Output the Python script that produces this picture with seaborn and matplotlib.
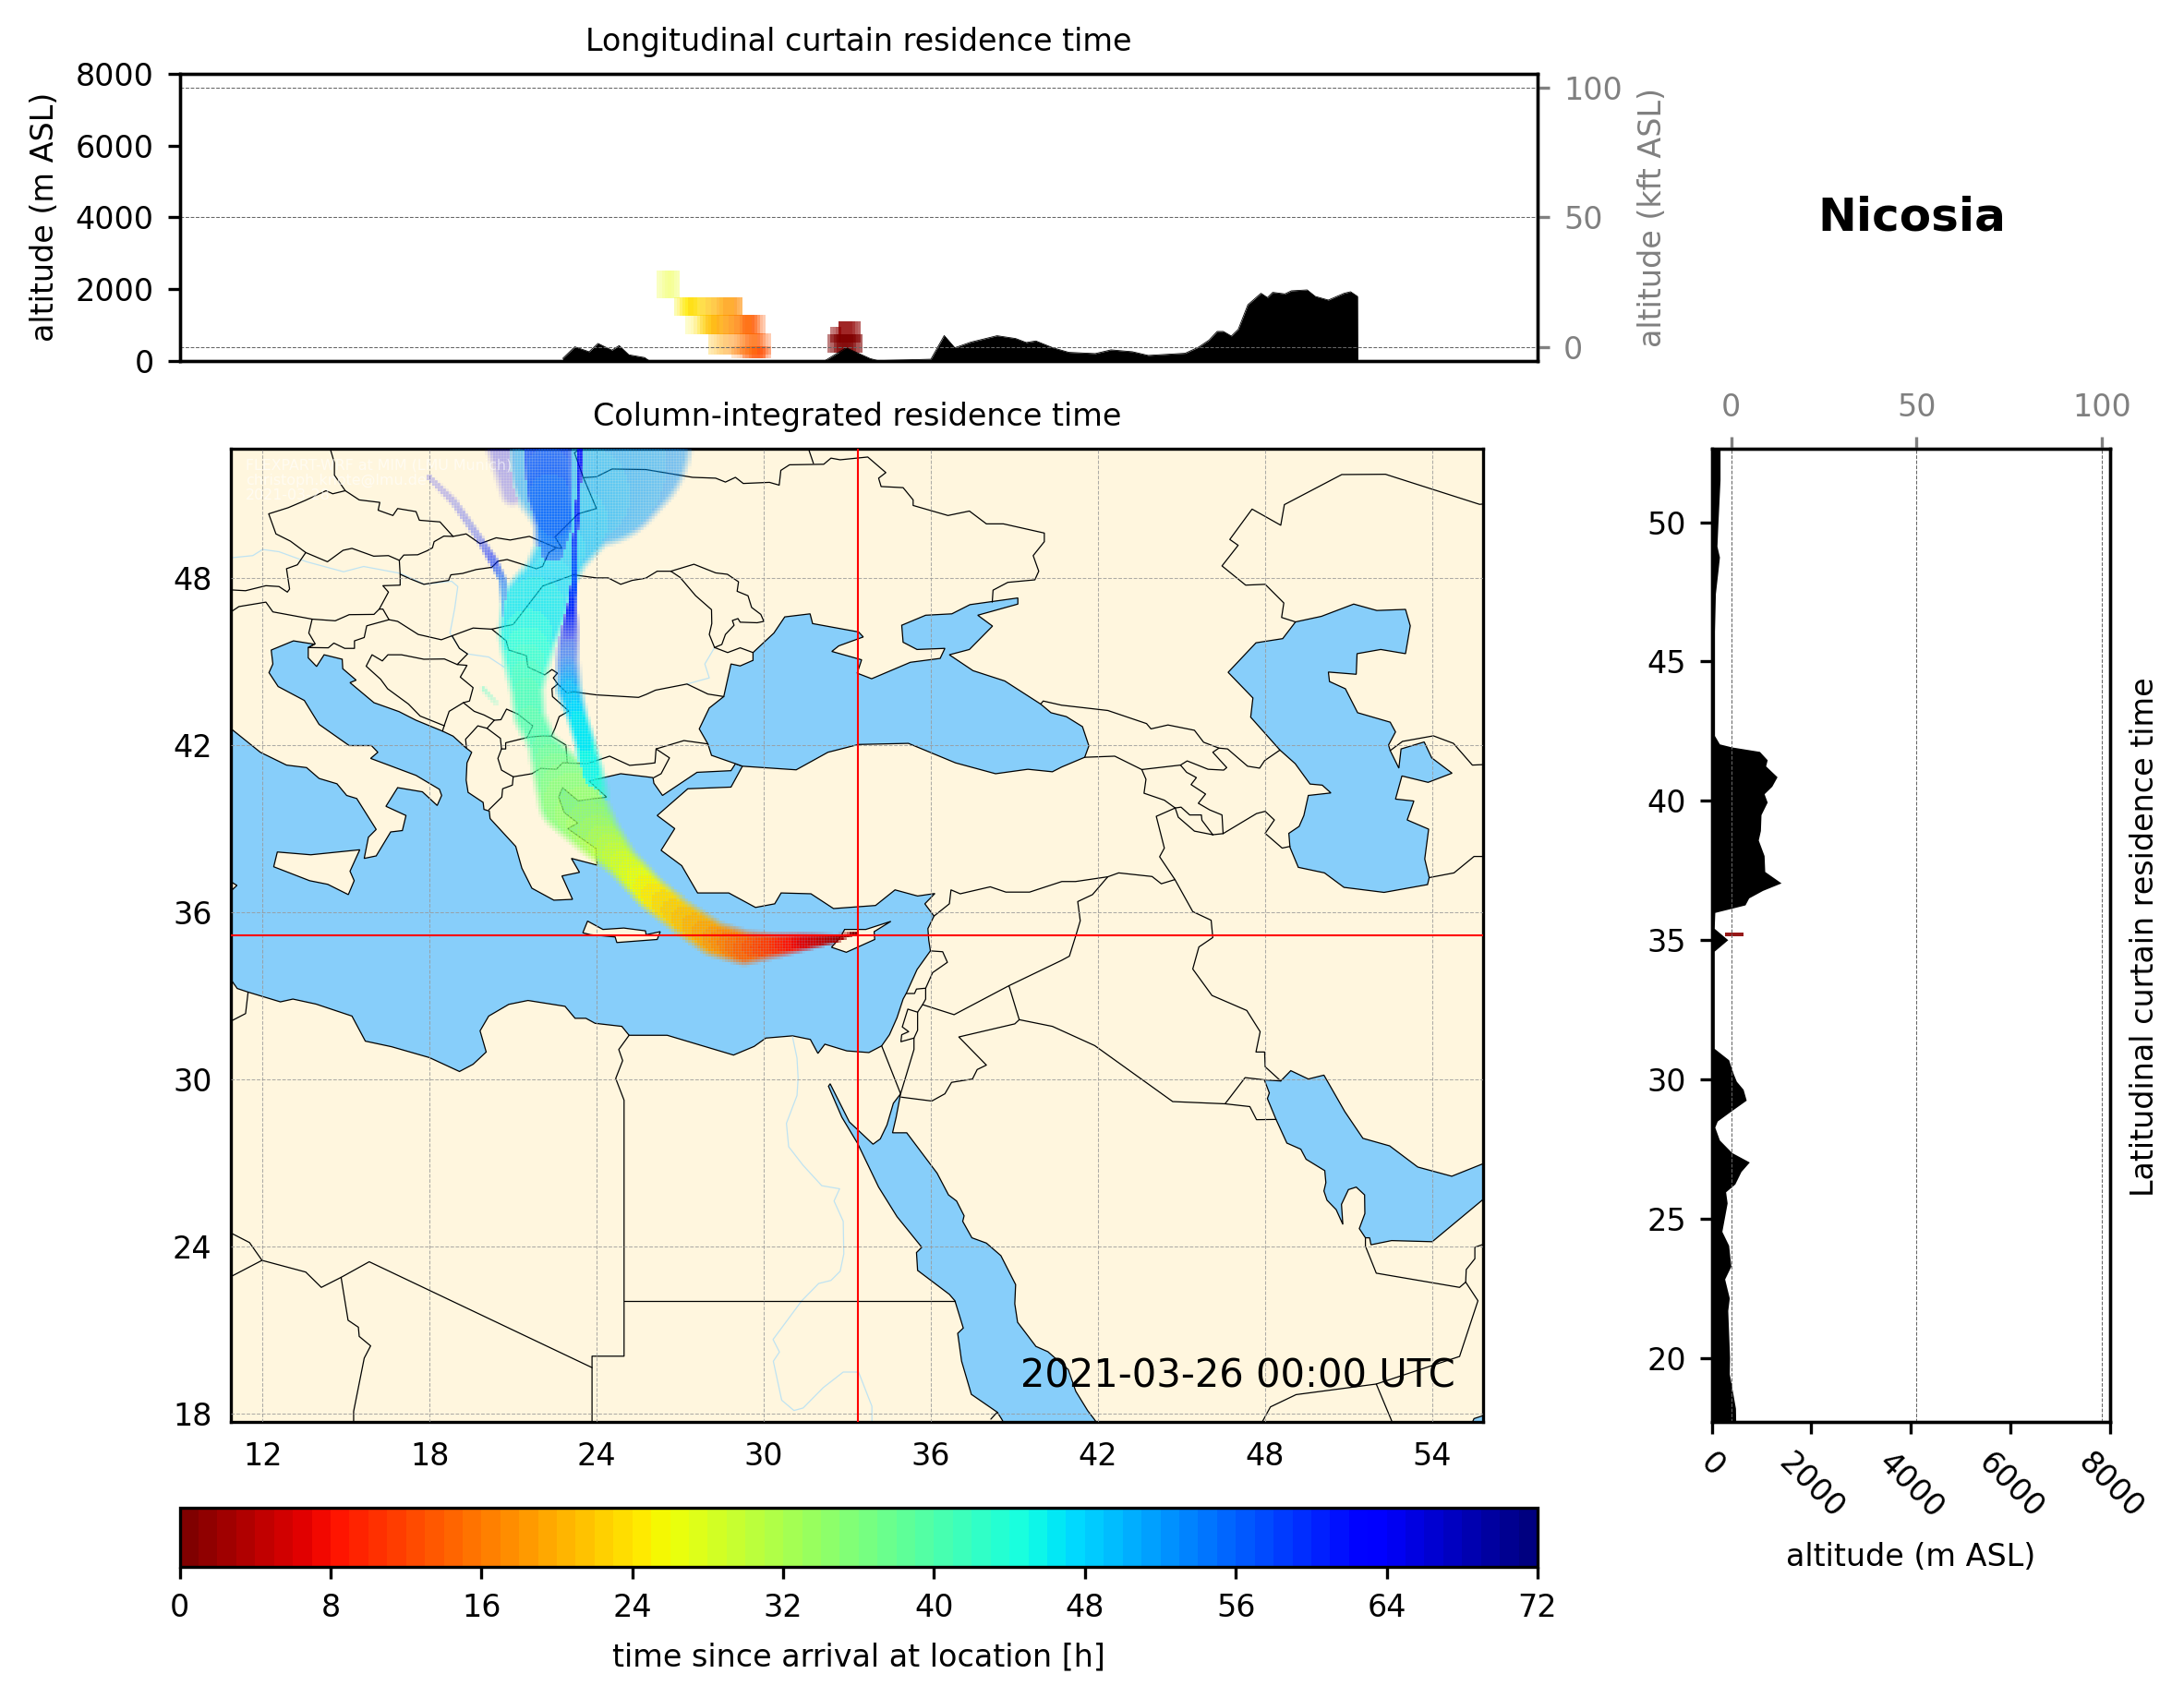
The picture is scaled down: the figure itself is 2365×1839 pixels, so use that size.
import numpy as np
import matplotlib
matplotlib.use("Agg")
import matplotlib.pyplot as plt
from matplotlib.colors import BoundaryNorm
from matplotlib.cm import ScalarMappable
import seaborn as sns

# ---------- map data (lon, lat) ----------
MED_SEA = [(10.85,42.6),(11.92,41.74),(12.86,41.28),(13.58,41.19),(14.03,40.8),(14.67,40.61),(15.02,40.19),(15.38,40.08),(16.08,38.97),(15.8,38.69),(15.65,37.93),(16.08,38.02),(16.6,38.88),(17.02,38.93),(17.15,39.47),(16.43,39.8),(16.85,40.47),(17.74,40.32),(18.27,39.83),(18.43,40.19),(18.35,40.41),(17.51,40.91),(15.88,41.52),(16.14,41.74),(15.91,41.98),(15.11,41.98),(14.03,42.74),(13.5,43.6),(12.56,44.1),(12.23,44.6),(12.37,44.91),(12.31,45.41),(13.11,45.74),(13.86,45.62),(13.64,45.5),(13.64,45.13),(13.94,44.82),(14.21,45.24),(14.86,45.08),(14.88,44.74),(15.36,44.33),(15.14,44.24),(16.0,43.52),(16.9,43.2),(17.51,42.89),(18.46,42.5),(18.84,42.32),(19.29,41.91),(19.51,41.74),(19.34,41.36),(19.31,40.74),(19.38,40.3),(19.92,39.94),(19.95,39.69),(20.14,39.63),(20.17,39.36),(21.09,38.36),(21.31,37.58),(21.67,36.86),(22.46,36.43),(23.13,36.46),(22.75,37.3),(23.38,37.43),(23.09,37.93),(24.01,37.69),(23.99,38.27),(22.96,39.0),(23.32,39.2),(22.83,39.58),(22.63,40.13),(22.77,40.47),(23.33,40.0),(24.35,40.13),(23.72,40.71),(24.86,40.97),(25.78,40.86),(26.02,40.83),(26.05,40.63),(26.36,40.19),(27.6,41.02),(28.82,41.08),(28.98,41.33),(29.23,41.24),(28.82,40.49),(27.27,40.43),(26.17,39.47),(26.8,39.0),(26.31,38.22),(27.05,37.67),(27.62,36.69),(28.74,36.69),(29.7,36.17),(30.39,36.3),(30.62,36.69),(31.69,36.66),(32.5,36.13),(34.01,36.24),(34.71,36.8),(35.52,36.58),(36.14,36.67),(35.78,36.3),(36.11,35.86),(35.89,35.41),(35.92,35.0),(35.98,34.61),(35.5,33.94),(35.12,33.1),(35.0,32.88),(34.78,32.21),(34.51,31.6),(34.23,31.2),(33.77,30.96),(32.98,31.02),(32.19,31.26),(31.94,30.93),(31.67,31.43),(31.03,31.56),(30.07,31.48),(29.65,31.18),(28.91,30.87),(26.53,31.58),(25.16,31.58),(24.9,31.9),(23.94,32.01),(23.61,32.19),(23.22,32.19),(22.86,32.62),(21.53,32.83),(20.84,32.69),(20.12,32.27),(19.81,31.74),(20.03,30.98),(19.56,30.54),(19.07,30.28),(17.99,30.78),(16.63,31.17),(15.69,31.37),(15.21,32.27),(13.92,32.7),(13.09,32.88),(12.64,32.78),(11.48,33.13),(11.09,33.26),(10.85,33.6)]
BLACK_SEA = [(30.75,46.6),(31.66,46.71),(31.75,46.36),(33.4,46.06),(33.57,45.88),(32.69,45.56),(32.44,45.36),(33.51,45.06),(33.35,44.58),(33.87,44.38),(35.26,44.97),(36.33,45.11),(36.5,45.47),(35.5,45.43),(35.0,45.69),(34.95,46.3),(35.81,46.66),(36.75,46.71),(37.4,47.04),(39.12,47.28),(39.12,47.06),(37.68,46.66),(38.21,46.27),(37.38,45.43),(36.66,45.24),(37.51,44.67),(38.65,44.3),(39.94,43.47),(40.31,43.16),(40.86,43.02),(41.44,42.66),(41.67,41.97),(41.52,41.56),(40.69,41.21),(40.36,41.04),(39.48,41.13),(38.32,40.97),(36.88,41.36),(35.19,42.06),(33.4,42.02),(32.3,41.74),(31.16,41.11),(29.23,41.24),(28.98,41.33),(28.12,41.63),(27.99,42.04),(27.68,42.58),(28.04,43.33),(28.56,43.74),(28.82,44.91),(29.15,44.84),(29.61,45.04),(29.61,45.32),(30.36,46.02)]
CASPIAN = [(46.67,44.61),(47.67,45.67),(48.63,45.82),(49.09,46.42),(50.02,46.62),(51.18,47.06),(52.01,46.83),(53.04,46.87),(53.21,46.28),(53.04,45.28),(52.15,45.43),(51.3,45.28),(51.27,44.54),(50.27,44.62),(50.31,44.28),(50.88,44.02),(51.32,43.16),(52.49,42.82),(52.68,42.47),(52.43,42.0),(52.49,41.8),(52.8,41.17),(52.88,41.86),(53.71,42.11),(53.98,41.54),(54.71,40.99),(53.85,40.66),(52.91,40.89),(52.68,40.06),(53.34,39.99),(53.1,39.31),(53.87,38.98),(53.73,37.91),(53.89,37.24),(53.83,36.99),(52.27,36.71),(50.83,36.89),(50.13,37.41),(49.19,37.61),(48.89,38.33),(48.85,38.83),(49.22,39.08),(49.39,39.47),(49.55,40.19),(50.36,40.28),(50.05,40.56),(49.61,40.6),(49.08,41.33),(48.53,41.82),(47.48,43.0),(47.56,43.69)]
RED_SEA = [(32.38,29.84),(33.07,28.47),(33.92,27.67),(34.18,27.86),(34.42,28.36),(34.65,29.14),(34.91,29.48),(34.75,28.64),(34.62,28.08),(35.13,28.08),(36.22,26.63),(36.63,25.85),(36.92,25.63),(37.19,25.1),(37.14,24.9),(37.47,24.31),(37.99,24.12),(38.51,23.67),(39.04,22.63),(39.01,21.94),(39.11,21.28),(39.77,20.41),(40.2,20.22),(40.93,19.58),(41.2,18.8),(41.63,18.1),(41.86,17.8),(42.0,17.6),(38.65,17.6),(38.54,17.8),(38.38,18.05),(37.45,18.69),(37.1,19.88),(36.96,20.88),(37.16,21.07),(36.86,22.05),(36.66,22.28),(35.52,23.14),(35.48,23.78),(35.67,23.97),(34.78,25.07),(34.12,26.13),(33.37,27.69),(32.8,28.64),(32.32,29.75)]
GULF = [(47.97,29.98),(48.56,29.94),(48.92,30.31),(49.55,30.01),(50.11,30.15),(50.86,28.84),(51.51,27.88),(52.47,27.61),(53.48,26.85),(54.7,26.52),(55.9,27.0),(55.9,25.75),(54.0,24.17),(52.54,24.21),(51.8,24.06),(51.75,24.31),(51.6,24.31),(51.38,24.64),(51.58,25.18),(51.57,25.85),(51.27,26.13),(50.99,26.04),(50.74,25.51),(50.79,24.79),(50.55,25.32),(50.22,25.66),(50.11,25.99),(50.18,26.29),(50.14,26.72),(49.47,27.13),(49.28,27.49),(48.78,27.71),(48.39,28.56),(48.08,29.31),(48.15,29.51)]
ARABIAN_CORNER = [(55.4,17.6),(55.5,17.82),(55.9,17.95),(55.9,17.6)]
WATER_BODIES = [MED_SEA, BLACK_SEA, CASPIAN, RED_SEA, GULF, ARABIAN_CORNER]

SICILY = [(12.53,38.16),(13.73,38.06),(15.49,38.24),(15.14,37.47),(15.29,37.13),(15.08,36.63),(14.34,37.0),(13.69,37.13),(12.4,37.63)]
CRETE = [(23.5,35.26),(23.67,35.68),(24.22,35.38),(24.97,35.43),(25.75,35.33),(25.77,35.19),(26.28,35.3),(26.17,35.02),(24.72,34.91),(24.66,35.11),(23.78,35.19)]
CYPRUS = [(32.9,35.38),(33.66,35.38),(34.56,35.67),(33.96,35.3),(33.98,35.02),(32.96,34.56),(32.43,34.74),(32.63,34.97),(32.8,35.19)]
TUNIS_TIP = [(10.85,37.1),(11.08,36.96),(10.85,36.75)]
ISLANDS = [SICILY, CRETE, CYPRUS, TUNIS_TIP]

B_POLAND_SOUTH = [(14.41,52.7),(14.58,52.13),(14.58,51.69),(14.97,51.13),(15.47,50.8),(16.21,50.71),(16.15,50.43),(16.68,50.24),(16.85,50.49),(17.51,50.38),(17.63,50.07),(18.37,50.01),(18.84,49.49),(19.31,49.58),(19.81,49.23),(20.39,49.44),(20.89,49.36),(21.58,49.49),(22.55,49.08),(22.75,49.06),(22.5,49.47),(23.33,50.3),(23.99,50.49),(23.52,51.6),(23.2,52.49),(23.49,52.7)]
B_UKRAINE_NORTH = [(23.52,51.6),(23.99,51.63),(24.55,51.91),(25.76,51.89),(27.44,51.61),(28.27,51.58),(28.62,51.44),(28.98,51.61),(29.26,51.39),(30.2,51.43),(30.55,51.33),(30.61,51.86),(30.92,52.06),(32.15,52.08),(32.41,52.3),(32.74,52.24),(33.73,52.34),(34.38,51.78),(34.12,51.58),(34.21,51.28),(35.0,51.24),(35.36,50.8),(35.36,50.6),(36.61,50.24),(37.38,50.4),(37.99,49.94),(38.6,49.94),(40.07,49.61),(40.07,49.3),(39.67,48.8),(39.87,48.24),(39.73,47.93),(38.76,47.84),(38.23,47.56),(38.2,47.13)]
B_RUS_BELARUS = [(31.58,52.7),(31.78,52.11)]
B_CZECH = [(14.97,51.13),(14.52,51.02),(14.28,51.13),(13.53,50.78),(12.92,50.52),(12.22,50.3),(12.48,49.58),(13.0,49.32),(13.55,48.91),(14.33,48.58),(14.89,48.99),(15.21,49.06),(15.99,48.78),(16.52,48.8),(16.91,48.63),(17.07,48.82),(17.57,48.83),(17.9,48.97),(18.1,49.08),(18.16,49.3),(18.51,49.5),(18.84,49.49)]
B_SLOVAK_SOUTH = [(16.91,48.63),(16.94,48.13),(17.29,47.97),(17.79,47.77),(18.68,47.91),(18.76,48.11),(19.18,48.16),(19.67,48.3),(20.23,48.38),(20.45,48.6),(20.78,48.66),(21.83,48.33),(22.05,48.41),(22.28,48.91),(22.55,49.08)]
B_AUSTRIA_WEST = [(13.55,48.91),(13.25,48.47),(12.86,48.33),(12.97,47.6),(12.89,47.49),(12.59,47.69),(12.12,47.72),(11.39,47.54),(10.85,47.57)]
B_AUSTRIA_SOUTH = [(16.94,48.13),(16.94,47.74),(16.32,47.72),(16.52,47.49),(16.19,46.88),(16.0,46.69),(15.11,46.68),(14.61,46.46),(13.78,46.52),(12.37,46.78),(12.12,47.13),(11.15,46.97),(10.85,46.77)]
B_SLOVENIA = [(13.78,46.52),(13.66,46.02),(13.89,45.63),(13.64,45.5),(14.36,45.49),(14.56,45.66),(14.95,45.47),(15.3,45.47),(15.3,45.74),(15.65,45.86),(15.74,46.28),(16.54,46.5),(16.32,46.88),(16.19,46.88)]
B_HUNGARY_SOUTH = [(16.54,46.5),(16.85,46.44),(17.59,45.97),(18.42,45.78),(19.56,46.2),(20.23,46.16),(21.0,46.33),(22.06,47.71),(23.16,48.11),(23.99,48.0),(24.41,48.0),(24.86,47.77),(25.27,47.91),(25.76,47.99),(26.17,48.24),(26.66,48.24)]
B_MOLDOVA_WEST = [(26.66,48.24),(26.99,48.02),(27.55,47.36),(28.12,46.86),(28.13,46.36),(28.04,45.97),(28.23,45.5),(28.7,45.32),(29.15,45.49),(29.61,45.32)]
B_MOLDOVA_EAST = [(26.66,48.24),(27.49,48.49),(28.27,48.18),(28.69,48.13),(29.09,47.86),(29.04,47.52),(29.43,47.36),(29.56,46.94),(29.89,46.69),(30.0,46.44),(29.76,46.39),(29.15,46.41),(29.07,46.54),(28.87,46.47),(28.93,46.3),(28.62,45.97),(28.49,45.61),(28.23,45.5)]
B_SERBIA_WEST = [(18.81,45.91),(19.07,45.47),(19.36,45.27),(18.99,44.89),(19.34,44.86),(19.1,44.44),(19.56,44.06),(19.43,43.58),(19.21,43.52),(18.7,43.21),(18.53,42.72),(18.46,42.5)]
B_BOSNIA = [(18.99,44.89),(18.53,45.09),(17.79,45.08),(16.99,45.24),(16.5,45.24),(16.3,45.02),(15.93,45.24),(15.72,44.83),(16.24,44.36),(16.49,44.02),(17.24,43.47),(17.66,43.04),(18.53,42.69)]
B_MONTENEGRO = [(19.21,43.52),(19.6,43.21),(19.95,43.08),(20.32,42.89),(20.06,42.6),(19.73,42.69),(19.56,42.5),(19.29,42.21),(19.32,41.91)]
B_KOSOVO = [(20.32,42.89),(20.56,42.91),(20.76,43.29),(21.17,43.11),(21.7,42.69),(21.5,42.27),(22.06,42.33),(22.37,42.32),(22.89,42.0),(22.94,41.36)]
B_KOSOVO_SOUTH = [(20.06,42.6),(20.54,42.24),(20.58,41.86),(20.73,41.86),(20.73,42.08),(21.5,42.27)]
B_GREECE_NORTH = [(20.58,41.86),(20.45,41.52),(20.58,41.1),(21.0,40.86),(21.67,40.97),(21.98,41.16),(22.55,41.13),(22.77,41.36),(23.66,41.33),(24.46,41.6),(25.18,41.27),(25.76,41.32),(26.09,41.36),(26.13,41.86),(27.13,42.16),(27.99,42.04)]
B_GALLIPOLI = [(26.13,41.86),(26.61,41.54),(26.31,40.97),(26.05,40.83)]
B_BULGARIA_WEST = [(22.37,42.32),(22.5,42.6),(22.65,43.02),(23.0,43.22),(22.41,43.74),(22.39,44.02),(22.6,44.19),(22.94,43.86),(23.16,43.91),(23.99,43.8),(25.5,43.71),(25.78,43.82),(26.11,43.97),(27.24,44.19),(27.99,43.83),(28.56,43.74)]
B_SERBIA_ROMANIA = [(20.23,46.16),(20.75,45.74),(20.84,45.41),(21.47,45.21),(21.53,44.8),(22.13,44.52),(22.39,44.71),(22.59,44.58),(22.44,44.41),(22.6,44.19)]
B_ALBANIA_SOUTH = [(21.0,40.86),(20.97,40.56),(20.62,40.43),(20.59,40.13),(20.12,39.67)]
B_KAZAKH_RUSSIA = [(55.9,50.66),(55.7,50.64),(52.32,51.72),(50.75,51.71),(48.69,50.63),(48.56,49.89),(47.53,50.47),(46.73,49.38),(47.03,49.17),(46.45,48.43),(47.3,47.74),(48.0,47.77),(48.67,47.1),(48.59,46.58),(49.09,46.42)]
B_CAUCASUS = [(39.94,43.47),(40.03,43.58),(40.69,43.43),(42.35,43.24),(43.74,42.77),(43.9,42.58),(44.51,42.72),(45.46,42.53),(45.79,42.1),(46.34,41.89),(46.65,41.86),(47.37,41.24),(47.8,41.17),(47.98,41.44),(48.53,41.82)]
B_GEORGIA_SOUTH = [(46.34,41.89),(46.12,41.74),(46.62,41.19),(46.51,41.1),(45.95,41.13),(45.2,41.43),(44.96,41.28),(43.57,41.12),(42.6,41.6),(41.52,41.56)]
B_ARMENIA = [(44.96,41.28),(45.18,41.02),(45.53,40.83),(45.34,40.58),(45.86,40.24),(45.6,39.91),(46.01,39.67),(46.45,39.49),(46.49,38.82),(46.12,38.78),(45.73,39.3),(45.71,39.49),(45.29,39.49),(44.98,39.77),(44.77,39.74),(44.88,39.41),(45.46,38.91),(46.12,38.78)]
B_TURKEY_ARMENIA = [(43.57,41.12),(43.72,40.77),(43.65,40.27),(44.38,40.02),(44.77,39.74)]
B_IRAN_WEST = [(44.77,39.74),(44.09,39.44),(44.38,38.3),(44.21,37.99),(44.76,37.17),(45.4,36.02),(46.06,35.71),(46.12,35.09),(45.62,34.75),(45.4,33.96),(46.09,33.01),(47.34,32.47),(47.82,31.71),(47.67,30.98),(47.98,30.98),(48.0,30.45),(48.56,29.94)]
B_IRAN_NORTH = [(46.49,38.82),(47.69,39.54),(48.0,39.62),(48.33,39.31),(48.0,38.83),(48.61,38.3),(48.89,38.36)]
B_TURKMEN_IRAN = [(53.89,37.24),(54.78,37.41),(55.5,38.0),(55.9,38.0)]
B_TURKMEN_NORTH = [(52.49,41.8),(52.93,42.13),(54.04,42.33),(54.76,42.06),(55.44,41.28),(55.9,41.3)]
B_TURKEY_SOUTH = [(36.11,35.86),(36.66,36.3),(36.72,36.8),(37.05,36.66),(38.13,36.91),(38.69,36.72),(39.54,36.72),(40.7,37.1),(41.19,37.1),(42.35,37.27),(42.74,37.41),(43.94,37.28),(44.27,37.02),(44.76,37.17)]
B_SYRIA_IRAQ = [(42.35,37.27),(41.8,36.63),(41.27,36.38),(41.36,35.69),(41.22,35.22),(40.97,34.42),(40.69,34.27),(38.8,33.36),(39.17,32.14)]
B_SYRIA_JORDAN = [(38.8,33.36),(36.83,32.32),(35.7,32.68)]
B_JORDAN_SAUDI = [(39.17,32.14),(39.01,31.99),(37.0,31.52),(37.99,30.51),(37.66,30.35),(37.49,30.01),(36.74,29.89),(36.5,29.48),(36.03,29.22),(34.93,29.36)]
B_IRAQ_SAUDI = [(39.17,32.14),(40.36,31.9),(41.88,31.21),(44.68,29.2),(46.56,29.12),(47.45,29.02),(47.69,28.55),(48.39,28.56)]
B_KUWAIT = [(46.56,29.12),(47.28,30.06),(47.97,29.98)]
B_LEBANON = [(35.98,34.61),(36.42,34.58),(36.59,34.2),(36.06,33.83),(35.81,33.27),(35.48,33.24),(35.41,33.08),(35.12,33.08)]
B_ISRAEL_EAST = [(35.81,33.27),(35.81,32.88),(35.7,32.68),(35.52,32.41),(35.52,31.76),(35.39,31.48),(35.39,31.07),(34.91,29.48)]
B_SINAI = [(34.23,31.2),(34.91,29.48)]
B_WEST_BANK = [(35.52,32.41),(35.17,32.52),(34.97,31.88),(35.2,31.71),(34.95,31.6),(34.92,31.35),(35.39,31.48)]
B_EGYPT_SOUTH = [(24.98,22.05),(36.86,22.05)]
B_EGYPT_LIBYA = [(25.16,31.58),(24.79,31.07),(24.93,30.67),(24.68,30.03),(24.98,29.25),(24.98,20.06),(23.83,20.06),(23.83,17.6)]
B_LIBYA_SOUTH = [(23.83,19.65),(15.83,23.45),(14.82,22.89),(14.11,22.53),(13.55,23.08),(11.98,23.5),(11.53,24.14),(10.85,24.49)]
B_NIGER_ALGERIA = [(11.98,23.5),(10.85,22.91)]
B_CHAD_NIGER = [(14.82,22.89),(15.07,21.35),(15.44,21.1),(15.47,20.77),(15.88,20.43),(15.65,19.99),(15.27,18.08),(15.27,17.6)]
B_TUNISIA = [(11.48,33.13),(11.39,32.36),(10.85,32.08)]
B_SAUDI_SOUTH = [(47.84,17.6),(48.19,18.24),(49.11,18.68),(51.99,19.06),(54.98,20.05),(55.64,22.05),(55.2,22.72),(54.98,22.53),(51.99,23.04),(51.6,24.01),(51.6,24.31)]
B_UAE_OMAN = [(55.2,22.72),(55.22,23.17),(55.53,23.56),(55.53,23.97),(55.9,24.1)]
B_OMAN_YEMEN = [(51.99,19.06),(52.6,17.6)]
B_ERITREA = [(38.15,17.8),(38.38,18.05)]
BORDERS = [B_POLAND_SOUTH,B_UKRAINE_NORTH,B_RUS_BELARUS,B_CZECH,B_SLOVAK_SOUTH,B_AUSTRIA_WEST,B_AUSTRIA_SOUTH,B_SLOVENIA,B_HUNGARY_SOUTH,B_MOLDOVA_WEST,B_MOLDOVA_EAST,B_SERBIA_WEST,B_BOSNIA,B_MONTENEGRO,B_KOSOVO,B_KOSOVO_SOUTH,B_GREECE_NORTH,B_GALLIPOLI,B_BULGARIA_WEST,B_SERBIA_ROMANIA,B_ALBANIA_SOUTH,B_KAZAKH_RUSSIA,B_CAUCASUS,B_GEORGIA_SOUTH,B_ARMENIA,B_TURKEY_ARMENIA,B_IRAN_WEST,B_IRAN_NORTH,B_TURKMEN_IRAN,B_TURKMEN_NORTH,B_TURKEY_SOUTH,B_SYRIA_IRAQ,B_SYRIA_JORDAN,B_JORDAN_SAUDI,B_IRAQ_SAUDI,B_KUWAIT,B_LEBANON,B_ISRAEL_EAST,B_SINAI,B_WEST_BANK,B_EGYPT_SOUTH,B_EGYPT_LIBYA,B_LIBYA_SOUTH,B_NIGER_ALGERIA,B_CHAD_NIGER,B_TUNISIA,B_SAUDI_SOUTH,B_UAE_OMAN,B_OMAN_YEMEN,B_ERITREA]

NILE = [(31.03,31.52),(31.19,30.76),(31.23,30.03),(31.19,29.42),(30.81,28.42),(30.89,27.58),(31.41,26.91),(32.08,26.18),(32.72,26.07),(32.52,25.63),(32.85,24.9),(32.87,23.73),(32.74,23.11),(32.41,22.78),(31.97,22.67),(31.36,22.05),(30.33,20.66),(30.56,20.21),(30.34,19.88),(30.64,18.48),(31.08,18.11),(31.41,18.2),(32.13,18.93),(32.85,19.49),(33.4,19.49),(33.88,18.26),(33.88,17.7)]
DANUBE_UPPER = [(10.85,48.72),(11.65,48.8),(12.0,49.02),(12.59,48.94),(13.58,48.58),(14.91,48.22),(15.63,48.41),(16.96,48.16),(17.81,47.77),(18.79,47.88),(19.01,47.69),(18.9,46.91),(18.73,46.02),(19.07,45.47),(19.36,45.27),(20.12,45.16),(20.67,44.8)]
DANUBE_LOWER = [(27.24,44.19),(28.04,44.41),(27.88,44.91),(28.23,45.5)]
RIVERS = [NILE, DANUBE_UPPER, DANUBE_LOWER]

NICOSIA_LON = 33.37
NICOSIA_LAT = 35.18

# plume branches: centre lon, lat, half-width (deg), hours since arrival, opacity
MAIN_LON = [33.37,32.6,31.4,30.4,29.3,28.2,27.1,26.0,24.9,24.0,23.1,22.6,22.05,21.6,21.5,21.5,21.55,21.8,22.3,22.8,23.2,23.4,23.8,24.1]
MAIN_LAT = [35.27,35.05,34.92,34.8,34.72,35.05,35.8,36.65,37.8,38.8,40.0,41.0,42,43,44,45,46,47,48,49,50,51,52,52.9]
MAIN_HW = [.03,.2,.38,.52,.7,.72,.68,.68,.68,.95,1.3,1.0,.62,.65,.68,.92,1.15,1.3,1.05,1.1,1.5,2.1,3.0,3.4]
MAIN_H = [0,3,7,11,15,19,22,25,29,33,36,38,40,41,42,44,46,47,48,49,50,51,52,52]
MAIN_A = [1,1,1,1,1,1,1,1,1,.9,.85,.85,.85,.85,.85,.8,.8,.75,.7,.7,.65,.6,.55,.5]
EAST_LON = [24.0,23.8,23.6,23.3,23.0,22.95,23.0,23.1,23.2,23.2,23.35,23.4]
EAST_LAT = [40.2,41,42,43,44,45,46,47,48,49,51,52.9]
EAST_HW = [.55,.55,.45,.45,.55,.5,.45,.22,.16,.16,.14,.14]
EAST_H = [42,45,46,47,50,56,60,60,56,58,60,62]
EAST_A = [.7,.95,1,1,.9,.6,.6,1,1,.9,.9,.9]
NW_LON = [22.4,22.5,22.3,22.2]
NW_LAT = [49,50,51,52.9]
NW_HW = [.7,.85,1.0,1.1]
NW_H = [54,55,56,58]
NW_A = [.75,.9,.85,.7]
NWFAINT_LON = [21.0,20.6]
NWFAINT_LAT = [51.0,52.9]
NWFAINT_HW = [.5,.7]
NWFAINT_H = [62,63]
NWFAINT_A = [.25,.3]
THIN_LON = [18.0,18.9,19.8,20.3,20.65,20.75]
THIN_LAT = [51.6,50.7,49.4,48.6,47.9,46.6]
THIN_HW = [.14,.18,.18,.22,.18,.18]
THIN_H = [62,62,60,60,55,50]
THIN_A = [.2,.25,.35,.6,.6,.6]
FAINT_LON = [19.95,20.4]
FAINT_LAT = [44.0,43.5]
FAINT_HW = [.12,.12]
FAINT_H = [42,42]
FAINT_A = [.35,.2]

# longitudinal curtain
TOP_TERRAIN_LON = [21.16,21.69,22.31,22.7,23.3,23.62,24.04,24.73,24.92,32.58,33.5,34.54,34.88,37.19,37.77,38.23,38.92,40.07,40.88,41.34,41.76,42.5,43.19,44.34,45.03,45.96,46.65,48.26,48.84,49.3,49.65,49.92,50.27,50.57,50.99,51.56,51.84,52.07,52.6,52.88,53.57,53.92,54.49,55.18,55.46,55.76,55.77]
TOP_TERRAIN_ALT = [60,386,249,480,292,420,163,86,0,0,360,60,0,40,700,360,515,695,617,506,549,360,232,197,300,249,146,206,377,575,815,815,686,875,1562,1880,1760,1905,1862,1948,1973,1793,1690,1880,1922,1793,0]
BAND_LOW = [1750,1261,746,171,60,60,500,500,232]
BAND_HIGH = [2505,1767,1278,763,400,170,930,1090,746]
BAND_LON0 = [25.25,26.0,26.5,27.5,28.5,29.0,32.8,33.15,32.7]
BAND_HOURS = [[26,26,26,26],[25,24,24,23,23,22,21,20,19,18,18,17],[25,24,23,22,21,20,19,18,17,16,14,14,13,13],[21,20,19,18,17,16,15,14,14,13,13],[16,15,14,14,13,12,12],[12,12,12,12],[1,1],[1,1,1,1],[0,0,0,0,0,0]]
BAND_ALPHA = [[.25,.4,.45,.3],[.3,.7,.9,.9,.7,.7,.7,.7,.8,.8,.8,.6],[.2,.3,.6,.8,.9,.9,.8,.8,.8,.8,.9,.9,.7,.3],[.3,.4,.5,.5,.5,.6,.7,.8,.8,.6,.3],[.2,.3,.4,.6,.7,.7,.3],[.3,.5,.5,.3],[.5,.7],[.85,.85,.85,.6],[.5,.9,.95,.95,.9,.6]]

# latitudinal curtain
SIDE_LAT = [52.77,51.52,49.93,49.14,48.75,48.23,47.44,46.08,42.34,42.04,41.93,41.77,41.47,41.25,40.86,40.52,40.25,39.95,39.5,38.93,38.59,38.03,37.46,37.05,36.78,36.51,36.26,35.99,35.42,35.01,34.6,31.11,30.7,30.2,29.93,29.64,29.25,28.84,28.5,28.28,27.82,27.37,27.03,26.69,26.24,25.96,25.56,24.54,24.04,23.29,22.83,22.15,21.7,20.0,19.43,18.19,17.62]
SIDE_ALT = [167,167,124,105,155,124,74,56,56,155,402,959,1114,1083,1312,1207,1052,1114,990,978,935,1052,1065,1393,1021,743,669,62,50,322,50,50,340,433,495,631,693,371,111,62,155,402,755,588,464,279,310,204,340,384,260,353,322,359,353,477,483]
SIDE_RED_ALT = [260,640]
SIDE_RED_LAT = [35.12,35.26]

LON_TICKS = [12,18,24,30,36,42,48,54]
LAT_TICKS = [18,24,30,36,42,48]
SIDE_LAT_TICKS = [20,25,30,35,40,45,50]
ALT_TICKS = [0,2000,4000,6000,8000]
KFT_TICKS = [0,50,100]
CBAR_TICKS = [0,8,16,24,32,40,48,56,64,72]
TIME_LEVELS = list(range(0,73,1))

# ---------- style ----------
sns.set_style("ticks")
plt.rcParams['font.family'] = ['DejaVu Sans']
plt.rcParams.update({'axes.linewidth':0.8,'text.color':'k','axes.labelcolor':'k','xtick.color':'k','ytick.color':'k','axes.edgecolor':'k'})
W, H = 2365, 1839
fig = plt.figure(figsize=(W/300, H/300), dpi=300)
FS = 8
TICK = dict(labelsize=FS, length=3.2, width=0.8, pad=3.5)

def axes_px(l, t, r, b):
    return fig.add_axes([l/W, 1-b/H, (r-l)/W, (b-t)/H])

ax_top = axes_px(194.6, 80, 1665, 390.6)
ax_map = axes_px(250.4, 485.6, 1606, 1540)
ax_side = axes_px(1853.6, 485.6, 2285, 1540)
ax_cb = axes_px(194.6, 1633, 1665, 1697)

cmap = plt.get_cmap('jet_r', len(TIME_LEVELS)-1)
norm = BoundaryNorm(TIME_LEVELS, cmap.N)

# ---------- map ----------
LAND = '#FFF6DE'
WATER = '#87CEFA'
ax_map.set_facecolor(LAND)
for poly in WATER_BODIES:
    xy = np.array(poly)
    ax_map.fill(xy[:,0], xy[:,1], facecolor=WATER, edgecolor='k', lw=0.3, zorder=1)
for poly in ISLANDS:
    xy = np.array(poly)
    ax_map.fill(xy[:,0], xy[:,1], facecolor=LAND, edgecolor='k', lw=0.3, zorder=1.2)
for line in RIVERS:
    xy = np.array(line)
    sns.lineplot(x=xy[:,0], y=xy[:,1], ax=ax_map, sort=False, estimator=None, color='#BFE3F2', lw=0.3, zorder=1.5)
for line in BORDERS:
    xy = np.array(line)
    sns.lineplot(x=xy[:,0], y=xy[:,1], ax=ax_map, sort=False, estimator=None, color='k', lw=0.3, zorder=2)

# plume field: one cell per 0.1 degree
DX = 0.1
lon_e = np.arange(10.8, 56.0, DX)
lat_e = np.arange(17.6, 53.0, DX)
lon_c = lon_e[:-1]+DX/2
lat_c = lat_e[:-1]+DX/2
alpha_f = np.zeros((lat_c.size, lon_c.size))
hour_f = np.zeros_like(alpha_f)

def stamp(lons, lats, hw, hrs, al):
    s = np.arange(len(lons))
    t = np.linspace(0, len(lons)-1, 60*len(lons))
    for a, b, w, h, op in zip(np.interp(t,s,lons), np.interp(t,s,lats), np.interp(t,s,hw), np.interp(t,s,hrs), np.interp(t,s,al)):
        w = max(w, 0.07)
        i0, i1 = np.searchsorted(lat_c, [b-w, b+w])
        j0, j1 = np.searchsorted(lon_c, [a-w, a+w])
        yy, xx = np.meshgrid(lat_c[i0:i1], lon_c[j0:j1], indexing='ij')
        d = np.hypot(xx-a, yy-b)
        val = op*np.clip((w-d)/min(0.28, 0.5*w), 0, 1)
        sub_a = alpha_f[i0:i1, j0:j1]
        sub_h = hour_f[i0:i1, j0:j1]
        m = val > sub_a
        sub_a[m] = val[m]
        sub_h[m] = h

stamp(MAIN_LON, MAIN_LAT, MAIN_HW, MAIN_H, MAIN_A)
stamp(NWFAINT_LON, NWFAINT_LAT, NWFAINT_HW, NWFAINT_H, NWFAINT_A)
stamp(NW_LON, NW_LAT, NW_HW, NW_H, NW_A)
stamp(THIN_LON, THIN_LAT, THIN_HW, THIN_H, THIN_A)
stamp(FAINT_LON, FAINT_LAT, FAINT_HW, FAINT_H, FAINT_A)
stamp(EAST_LON, EAST_LAT, EAST_HW, EAST_H, EAST_A)

# each 0.1 degree cell is drawn with a paler rim, like the seams between mesh cells
SUB = 3
rim = np.array([1.0, 1.0, 0.85])
rgba = np.repeat(np.repeat(cmap(norm(hour_f)), SUB, axis=0), SUB, axis=1)
a_fine = np.repeat(np.repeat(np.clip(alpha_f, 0, 1), SUB, axis=0), SUB, axis=1)
pat = np.outer(np.tile(rim, lat_c.size), np.tile(rim, lon_c.size))
rgba[..., 3] = a_fine*pat
ax_map.imshow(rgba, origin='lower', extent=[lon_e[0], lon_e[-1], lat_e[0], lat_e[-1]], aspect='auto', interpolation='nearest', zorder=3)

ax_map.axvline(NICOSIA_LON, color='red', lw=0.5, zorder=5)
ax_map.axhline(NICOSIA_LAT, color='red', lw=0.5, zorder=5)
ax_map.set_xlim(10.875, 55.825)
ax_map.set_ylim(17.7, 52.65)
ax_map.set_xticks(LON_TICKS)
ax_map.set_yticks(LAT_TICKS)
ax_map.set_axisbelow(False)
ax_map.grid(True, ls='--', lw=0.25, color='#999999', alpha=0.8)
ax_map.tick_params(length=0, labelsize=FS, pad=5)
ax_map.set_xlabel(''); ax_map.set_ylabel('')
ax_map.set_title('Column-integrated residence time', fontsize=FS, pad=6)
ax_map.text(0.0115, 0.99, 'FLEXPART-WRF at MIM (LMU Munich)\nchristoph.knote@lmu.de\n2021-03-28', transform=ax_map.transAxes,
            color='white', alpha=0.6, fontsize=3.8, va='top', ha='left', zorder=6, linespacing=1.1)
ax_map.text(0.978, 0.0275, '2021-03-26 00:00 UTC', transform=ax_map.transAxes, color='k', fontsize=10,
            ha='right', va='bottom', zorder=7)

# ---------- top curtain ----------
CELL = 0.25
FINE = 0.125
for lo, hi, l0, hrs, als in zip(BAND_LOW, BAND_HIGH, BAND_LON0, BAND_HOURS, BAND_ALPHA):
    read_x = l0 + CELL*(np.arange(len(hrs))+0.5)
    xs = np.arange(l0+FINE/2, l0+CELL*len(hrs), FINE)
    cols_b = cmap(norm(np.interp(xs, read_x, hrs)))
    cols_b[:, 3] = np.interp(xs, read_x, als)
    ax_top.bar(xs, hi-lo, bottom=lo, width=FINE, color=cols_b, linewidth=0, zorder=2)
ax_top.fill_between(TOP_TERRAIN_LON, 0, TOP_TERRAIN_ALT, color='k', lw=0, zorder=3)
sns.lineplot(x=TOP_TERRAIN_LON, y=TOP_TERRAIN_ALT, ax=ax_top, sort=False, estimator=None, color='k', lw=0.2, zorder=3)
ax_top.set_xlim(4.49, 63.6)
ax_top.set_ylim(0, 8000)
ax_top.set_xticks([])
ax_top.set_yticks(ALT_TICKS)
ax_top.tick_params(**TICK)
ax_top.set_xlabel('')
ax_top.set_ylabel('altitude (m ASL)', fontsize=FS, labelpad=4)
ax_top.set_title('Longitudinal curtain residence time', fontsize=FS, pad=6)
tw = ax_top.twinx()
tw.set_ylim(-5.25, 105.25)
tw.set_yticks(KFT_TICKS)
tw.grid(True, axis='y', ls='--', lw=0.25, color='#666666')
tw.tick_params(axis='y', colors='gray', **TICK)
tw.set_ylabel('altitude (kft ASL)', fontsize=FS, color='gray', labelpad=4)
tw.patch.set_visible(False)

# ---------- side curtain ----------
ax_side.fill_betweenx(SIDE_LAT, 0, SIDE_ALT, color='k', lw=0, zorder=3)
ax_side.fill_between(SIDE_RED_ALT, SIDE_RED_LAT[0], SIDE_RED_LAT[1], color='#8B0000', alpha=0.9, lw=0, zorder=4)
ax_side.set_xlim(0, 8000)
ax_side.set_ylim(17.7, 52.65)
ax_side.set_xticks(ALT_TICKS)
ax_side.set_yticks(SIDE_LAT_TICKS)
ax_side.tick_params(**TICK)
ax_side.tick_params(axis='x', labelrotation=-45)
ax_side.set_xlabel('altitude (m ASL)', fontsize=FS, labelpad=4.5)
tx = ax_side.twiny()
tx.set_xlim(-5.24, 102.3)
tx.set_xticks(KFT_TICKS)
tx.grid(True, axis='x', ls='--', lw=0.25, color='#666666')
tx.tick_params(axis='x', colors='gray', **TICK)
tx.patch.set_visible(False)
fig.text(2322/W, 1-1015/H, 'Latitudinal curtain residence time', rotation=90, fontsize=FS, ha='center', va='center')
fig.text(2070/W, 1-235/H, 'Nicosia', fontsize=12, fontweight='bold', ha='center', va='center')

# ---------- colorbar ----------
cb = fig.colorbar(ScalarMappable(norm=norm, cmap=cmap), cax=ax_cb, orientation='horizontal', ticks=CBAR_TICKS, drawedges=False, spacing='proportional')
cb.minorticks_off()
cb.ax.tick_params(**TICK)
cb.outline.set_linewidth(0.8)
cb.set_label('time since arrival at location [h]', fontsize=FS, labelpad=5)

fig.savefig('out.png', dpi=300, facecolor='white')
